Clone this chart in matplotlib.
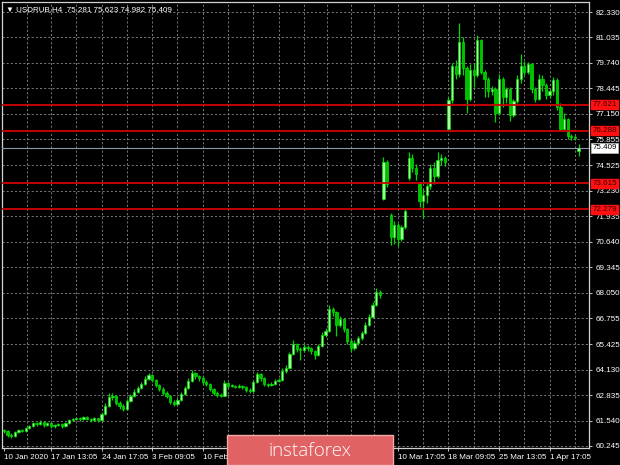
"""USDRUB H4 candle chart, MT4 green-on-black look."""
import numpy as np
import matplotlib
matplotlib.use('Agg')
import matplotlib.pyplot as plt
from matplotlib.patches import FancyBboxPatch
import matplotlib.transforms as mtransforms

plt.rcParams['font.family'] = ['Liberation Sans', 'DejaVu Sans']

symbol = 'USDRUB,H4'

# closes per H4 bar
closes = [
    61.00, 60.80, 60.75, 60.95, 61.05, 61.00, 61.15, 61.25, 61.40, 61.35,
    61.45, 61.30, 61.40, 61.25, 61.30, 61.35, 61.25, 61.40, 61.55, 61.60,
    61.65, 61.60, 61.70, 61.62, 61.55, 61.65, 61.55, 61.85, 62.30, 62.75,
    62.80, 62.45, 62.30, 62.15, 62.55, 62.80, 63.00, 63.20, 63.40, 63.65,
    63.85, 63.60, 63.35, 63.15, 62.95, 62.80, 62.50, 62.40, 62.60, 62.90,
    63.20, 63.55, 63.95, 63.80, 63.70, 63.50, 63.40, 63.15, 62.95, 62.85,
    62.80, 63.45, 63.30, 63.30, 63.25, 63.30, 63.25, 63.10, 63.05, 63.50,
    63.90, 63.70, 63.40, 63.35, 63.40, 63.55, 63.60, 64.05, 64.20, 64.90,
    65.45, 65.20, 65.15, 65.30, 65.25, 65.10, 64.85, 65.35, 65.90, 66.10,
    67.20, 67.05, 66.40, 66.70, 66.20, 65.60, 65.25, 65.50, 65.75, 66.00,
    66.40, 66.80, 67.40, 68.10, 67.95,
    74.70, 73.60, 70.90, 71.50, 70.80, 71.40, 72.20, 74.90, 74.40, 74.10,
    72.70, 73.00, 73.50, 74.40, 74.00, 74.80, 74.90, 74.70,
    77.85, 79.60, 79.20, 80.80, 79.50, 77.90, 79.40, 79.10, 80.90, 79.30,
    78.90, 78.30, 78.40, 77.20, 78.90, 78.00, 78.40, 77.10, 77.80, 78.90,
    79.60, 79.30, 79.70, 78.40, 77.90, 78.90, 78.60, 78.10, 78.30, 78.85,
    77.50, 76.40, 76.90, 76.00, 75.95, 75.90, 75.409,
]
highs = [
    61.12, 61.05, 60.88, 61.02, 61.12, 61.10, 61.22, 61.32, 61.48, 61.46,
    61.55, 61.50, 61.46, 61.44, 61.36, 61.42, 61.40, 61.46, 61.62, 61.68,
    61.74, 61.70, 61.78, 61.75, 61.68, 61.72, 61.68, 61.95, 62.42, 62.95,
    62.92, 62.85, 62.55, 62.38, 62.62, 62.90, 63.12, 63.30, 63.52, 63.78,
    63.98, 63.90, 63.66, 63.42, 63.22, 63.02, 62.85, 62.58, 62.70, 63.00,
    63.32, 63.68, 64.10, 64.02, 63.88, 63.78, 63.58, 63.45, 63.20, 63.02,
    62.92, 63.60, 63.50, 63.38, 63.36, 63.38, 63.34, 63.30, 63.18, 63.60,
    64.02, 63.95, 63.75, 63.46, 63.48, 63.65, 63.70, 64.20, 64.38, 65.05,
    65.62, 65.50, 65.30, 65.42, 65.40, 65.30, 65.15, 65.45, 66.02, 66.25,
    67.42, 67.30, 67.10, 66.85, 66.78, 66.25, 65.68, 65.62, 65.85, 66.12,
    66.55, 66.95, 67.55, 68.30, 68.20,
    74.95, 74.80, 72.10, 71.70, 71.60, 71.50, 72.35, 75.22, 75.10, 74.60,
    73.70, 73.30, 73.60, 74.60, 74.70, 75.20, 75.10, 75.00,
    78.00, 79.75, 79.90, 81.75, 81.05, 79.60, 79.70, 79.75, 81.15, 80.95,
    79.40, 79.00, 78.55, 78.50, 79.20, 79.00, 78.50, 78.50, 77.90, 79.10,
    80.20, 79.85, 79.80, 79.75, 78.50, 79.20, 79.10, 78.70, 78.40, 79.00,
    78.95, 77.70, 77.20, 76.95, 76.10, 76.05, 75.623,
]
lows = [
    60.92, 60.70, 60.65, 60.70, 60.90, 60.94, 60.96, 61.10, 61.20, 61.28,
    61.30, 61.22, 61.25, 61.18, 61.18, 61.24, 61.18, 61.20, 61.36, 61.50,
    61.55, 61.54, 61.56, 61.56, 61.48, 61.50, 61.45, 61.50, 61.80, 62.25,
    62.60, 62.35, 62.12, 62.00, 62.10, 62.48, 62.72, 62.92, 63.12, 63.35,
    63.58, 63.50, 63.25, 63.05, 62.85, 62.68, 62.40, 62.28, 62.32, 62.55,
    62.85, 63.12, 63.50, 63.65, 63.55, 63.40, 63.28, 63.05, 62.85, 62.75,
    62.72, 62.78, 63.20, 63.22, 63.18, 63.20, 63.15, 63.00, 62.96, 63.00,
    63.45, 63.55, 63.30, 63.25, 63.28, 63.35, 63.48, 63.55, 63.95, 64.15,
    64.85, 65.05, 64.60, 65.05, 65.10, 64.95, 64.68, 64.80, 65.30, 65.80,
    66.05, 66.85, 65.85, 66.30, 66.05, 65.45, 65.05, 65.15, 65.40, 65.65,
    65.95, 66.35, 66.75, 67.35, 67.80,
    72.76, 73.40, 70.45, 70.50, 70.40, 70.70, 71.30, 73.80, 74.20, 73.80,
    72.40, 71.85, 72.60, 73.30, 73.60, 73.90, 74.55, 74.50,
    76.30, 77.70, 78.90, 79.00, 79.10, 77.20, 77.80, 78.50, 79.00, 79.15,
    78.00, 78.00, 78.10, 76.75, 77.10, 77.50, 77.70, 76.80, 77.00, 77.70,
    78.70, 79.10, 79.20, 78.20, 77.75, 77.85, 78.30, 77.90, 77.95, 78.10,
    77.35, 76.30, 76.30, 75.85, 75.80, 75.80, 74.982,
]
# bars whose open differs from the previous close (session gaps)
gap_opens = {0: 61.05, 105: 72.80, 107: 72.00, 112: 73.90, 115: 73.60,
             123: 76.40, 159: 75.281}

levels = [77.621, 76.288, 73.615, 72.279]
price_ticks = [82.330, 81.035, 79.740, 78.445, 77.150, 75.855, 74.525, 73.230,
               71.935, 70.640, 69.345, 68.050, 66.755, 65.425, 64.130, 62.835,
               61.540, 60.245]
# labels under the watermark are not readable, so they stay blank
date_labels = ['10 Jan 2020', '17 Jan 13:05', '24 Jan 17:05', '3 Feb 09:05',
               '10 Feb 13:05', '', '', '',
               '10 Mar 17:05', '18 Mar 09:05', '25 Mar 13:05', '1 Apr 17:05']
date_bars = [0, 13, 27, 41, 55, 69, 83, 96, 109, 123, 137, 151]

closes = np.array(closes)
highs = np.array(highs)
lows = np.array(lows)
opens = np.concatenate([[closes[0]], closes[:-1]])
for k, v in gap_opens.items():
    opens[k] = v
n = len(closes)
x = np.arange(n)
last = closes[-1]

W, H = 620, 465
fig = plt.figure(figsize=(6.2, 4.65), dpi=100, facecolor='black')
ax = fig.add_axes([2 / W, 17 / H, 587 / W, 446 / H], facecolor='black')

# grid
grid_kw = dict(color='#8c8c8c', lw=0.6, ls=(0, (2.5, 2.5)), zorder=0)
for p in price_ticks:
    ax.axhline(p, **grid_kw)
db = np.array(date_bars, dtype=float)
mids = (db[:-1] + db[1:]) / 2
vgrid = np.concatenate([db[1:], mids, [db[-1] + (db[-1] - db[-2]) / 2]])
for g in vgrid:
    ax.axvline(g, **grid_kw)

# candles
up = closes >= opens
ax.vlines(x, lows, highs, color='#00d800', lw=0.9, zorder=2)
body_lo = np.minimum(opens, closes)
body_h = np.maximum(np.abs(closes - opens), 0.03)
ax.bar(x[up], body_h[up], bottom=body_lo[up], width=0.62,
       color='#a8ffa0', edgecolor='#00e000', lw=0.5, zorder=3)
ax.bar(x[~up], body_h[~up], bottom=body_lo[~up], width=0.62,
       color='#00c000', edgecolor='#00e000', lw=0.5, zorder=3)

# support / resistance levels and current price
trans = mtransforms.blended_transform_factory(ax.transAxes, ax.transData)
for lv in levels:
    ax.axhline(lv, color='#d00000', lw=1.3, zorder=4)
ax.axhline(last, color='#8899a8', lw=0.8, zorder=4)

ax.set_xlim(-0.55, 161.9)
ax.set_ylim(60.141, 82.839)

ax.yaxis.tick_right()
ax.set_yticks(price_ticks)
ax.set_yticklabels([f'{p:.3f}' for p in price_ticks])
ax.tick_params(axis='y', colors='#e0e0e0', labelsize=5.8, length=2.5,
               width=0.6, pad=2, labelcolor='white')
ax.set_xticks(date_bars)
ax.set_xticklabels(date_labels, ha='left')
ax.tick_params(axis='x', colors='#e0e0e0', labelsize=5.8, length=2.5,
               width=0.6, pad=1.5, labelcolor='white')
for s in ax.spines.values():
    s.set_color('#d0d0d0')
    s.set_linewidth(0.9)

for lv in levels:
    ax.text(1.006, lv, f'{lv:.3f}', transform=trans, fontsize=5.8,
            color='#3a0000', va='center', ha='left', zorder=6, clip_on=False,
            bbox=dict(boxstyle='square,pad=0.15', fc='#ff1010', ec='#ff1010'))
ax.text(1.006, last, f'{last:.3f}', transform=trans, fontsize=5.8,
        color='black', va='center', ha='left', zorder=6, clip_on=False,
        bbox=dict(boxstyle='square,pad=0.15', fc='white', ec='#c0c0c0', lw=0.5))

ax.text(0.007, 0.992, f'\u25bc {symbol}  {opens[-1]:.3f} {highs[-1]:.3f} '
        f'{lows[-1]:.3f} {closes[-1]:.3f}', transform=ax.transAxes,
        fontsize=5.8, color='white', va='top', ha='left',
        family=['Liberation Sans', 'DejaVu Sans'])

# watermark
logo = FancyBboxPatch((227 / W, 0), 166 / W, 30 / H, boxstyle='square,pad=0',
                      transform=fig.transFigure, fc='#e06262', ec='#f2a8a8',
                      lw=1.0, zorder=10)
fig.patches.append(logo)
fig.text(310 / W, 14 / H, 'instaforex', color='white', fontsize=13.5,
         ha='center', va='center', family=['Open Sans', 'DejaVu Sans'],
         fontweight='light', zorder=11)

fig.savefig('out.png', dpi=100, facecolor='black')
